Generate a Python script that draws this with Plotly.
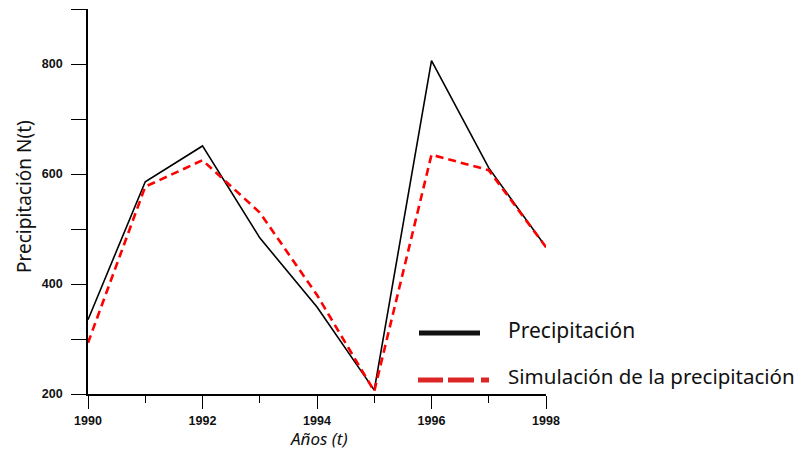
import plotly.graph_objects as go

# Annual precipitation: observed vs. simulated
years = [1990, 1991, 1992, 1993, 1994, 1995, 1996, 1997, 1998]
precip_obs = [335, 586, 651, 484, 358, 207, 806, 611, 467]
precip_sim = [293, 577, 625, 530, 380, 205, 635, 607, 467]

x_tick_vals = [1990, 1992, 1994, 1996, 1998]
y_tick_vals = [200, 400, 600, 800]

label_font = "Noto Sans"
tick_font = dict(family="Liberation Sans", size=12.5, color="#111111", weight="bold")

fig = go.Figure()
fig.add_trace(go.Scatter(
    x=years, y=precip_obs, mode="lines", name="Precipitación",
    line=dict(color="#000000", width=1.6), showlegend=False,
))
fig.add_trace(go.Scatter(
    x=years, y=precip_sim, mode="lines", name="Simulación de la precipitación",
    line=dict(color="#ff0000", width=2.6, dash="8px,5px"), showlegend=False,
))

fig.update_xaxes(
    range=[1990, 1998], tickvals=x_tick_vals, ticktext=[str(v) for v in x_tick_vals],
    showgrid=False, zeroline=False, showline=True, linecolor="#000000", linewidth=1.6,
    ticks="outside", ticklen=13, tickwidth=1.4, tickcolor="#000000",
    minor=dict(dtick=1, ticks="outside", ticklen=7, tickwidth=1.4, tickcolor="#000000", showgrid=False),
    tickfont=tick_font, ticklabelstandoff=1,
)
fig.update_yaxes(
    range=[200, 900], tickvals=y_tick_vals, ticktext=[str(v) for v in y_tick_vals],
    showgrid=False, zeroline=False, showline=True, linecolor="#000000", linewidth=1.6,
    ticks="outside", ticklen=15, tickwidth=1.4, tickcolor="#000000",
    minor=dict(dtick=100, ticks="outside", ticklen=15, tickwidth=1.4, tickcolor="#000000", showgrid=False),
    tickfont=tick_font, ticklabelstandoff=6,
)


def px_x(p):
    return (p - 88) / 458


def px_y(p):
    return (394 - p) / 385


annotations = [
    dict(text="Precipitación N(t)", textangle=-90, xref="paper", yref="paper",
         x=px_x(24), y=px_y(197), xanchor="center", yanchor="middle",
         showarrow=False, font=dict(family=label_font, size=19, color="#111111")),
    dict(text="<i>Años (t)</i>", xref="paper", yref="paper",
         x=px_x(319), y=px_y(451), xanchor="center", yanchor="bottom", borderpad=0,
         showarrow=False, font=dict(family=label_font, size=17, color="#111111")),
    dict(text="Precipitación", xref="paper", yref="paper",
         x=px_x(506), y=px_y(330), xanchor="left", yanchor="middle",
         showarrow=False, font=dict(family=label_font, size=21, color="#111111")),
    dict(text="Simulación de la precipitación", xref="paper", yref="paper",
         x=px_x(506), y=px_y(376), xanchor="left", yanchor="middle",
         showarrow=False, font=dict(family=label_font, size=20.5, color="#111111")),
]

# legend keys
shapes = [
    dict(type="line", xref="paper", yref="paper", x0=px_x(419), x1=px_x(480),
         y0=px_y(333), y1=px_y(333), line=dict(color="#111111", width=5)),
]
for a, b in [(418, 443), (448, 474), (481, 489)]:
    shapes.append(dict(type="line", xref="paper", yref="paper", x0=px_x(a), x1=px_x(b),
                       y0=px_y(380), y1=px_y(380), line=dict(color="#dc2626", width=5)))

fig.update_layout(
    width=807, height=451,
    margin=dict(l=88, r=261, t=9, b=57),
    paper_bgcolor="white", plot_bgcolor="white",
    annotations=annotations, shapes=shapes,
    showlegend=False,
)

fig.write_html("out.html")
